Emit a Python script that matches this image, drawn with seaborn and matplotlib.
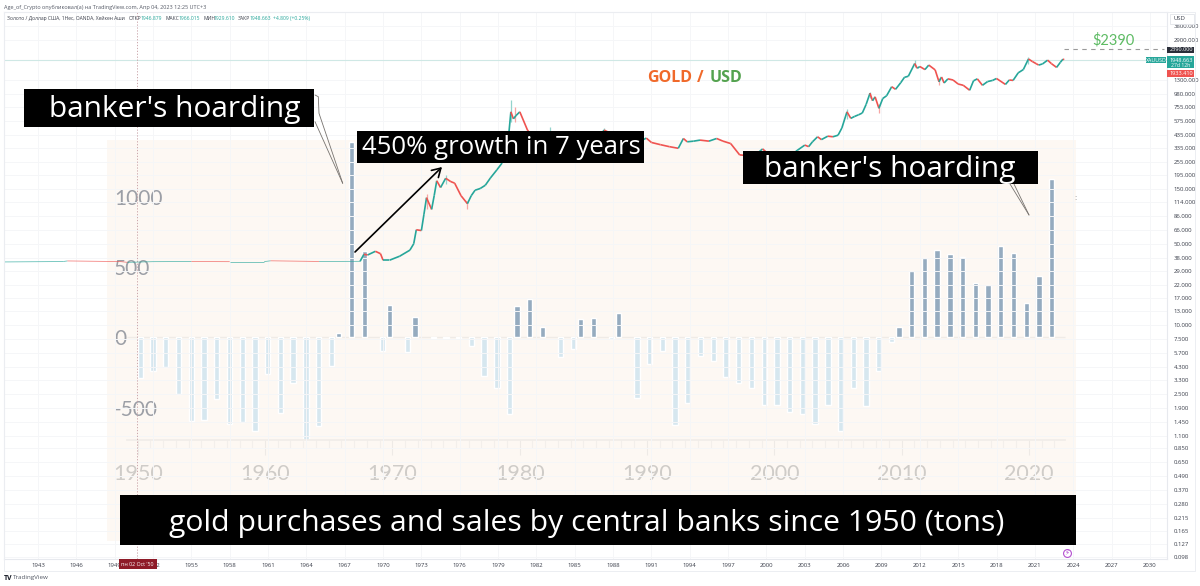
import pandas as pd
import numpy as np
import matplotlib
matplotlib.use('Agg')
import matplotlib.pyplot as plt
import seaborn as sns

## bar panel data (tons)
years = list(range(1950, 2023))
tons = [-292, -239, -209, -403, -595, -588, -439, -614, -600, -666,
        -263, -541, -327, -730, -628, -204, 33, 1389, 614, -95,
        230, -102, 142, -3, -7, -3, -59, -273, -363, -548,
        223, 270, 76, -142, -85, 128, 138, -14, 175, -434,
        -192, -100, -624, -469, -133, -166, -280, -327, -363, -481,
        -481, -529, -548, -619, -481, -664, -363, -486, -237, -31,
        73, 474, 564, 623, 593, 571, 384, 370, 647, 597,
        247, 439, 1126]
panel_xlabels = [1950, 1960, 1970, 1980, 1990, 2000, 2010, 2020]
panel_yticks = [1000, 500, 0, -500]

## gold price path (year, usd)
gold_year = [1940.4, 1945.0, 1945.3, 1949.5, 1950.0, 1952.0, 1955.0, 1958.0, 1960.7, 1961.2, 1965.0, 1968.2,
             1968.5, 1968.8, 1969.4, 1969.8, 1970.0, 1970.5, 1971.3, 1972.1, 1972.4, 1972.6, 1973.0, 1973.2, 1973.4,
             1973.8, 1974.0, 1974.2, 1974.5, 1974.9, 1975.3, 1975.6, 1976.1, 1976.6, 1976.9, 1977.2, 1977.6, 1978.0,
             1978.4, 1978.9, 1979.3, 1979.8, 1980.0, 1980.2, 1980.4, 1980.7, 1981.3, 1982.4, 1983.1, 1984.0, 1985.1,
             1986.2, 1987.3, 1988.0, 1989.4, 1990.3, 1990.6, 1991.0, 1991.7, 1992.4, 1993.1, 1993.5, 1993.8, 1994.3,
             1994.8, 1995.5, 1996.1, 1996.6, 1997.2, 1997.9, 1999.0, 1999.7, 2000.5, 2001.5, 2002.4, 2003.0, 2003.3,
             2003.6, 2004.0, 2004.3, 2004.8, 2005.2, 2005.6, 2005.9, 2006.3, 2006.6, 2006.9, 2007.2, 2007.5, 2007.8,
             2008.1, 2008.3, 2008.5, 2008.8, 2009.1, 2009.4, 2009.8, 2010.1, 2010.5, 2010.8, 2011.1, 2011.6, 2011.8,
             2012.0, 2012.4, 2012.7, 2013.2, 2013.5, 2013.7, 2013.9, 2014.2, 2014.6, 2015.0, 2015.4, 2015.9, 2016.2,
             2016.5, 2016.9, 2017.3, 2017.7, 2018.0, 2018.7, 2019.0, 2019.3, 2019.7, 2020.1, 2020.5, 2020.8, 2021.1,
             2021.3, 2021.6, 2022.0, 2022.3, 2022.7, 2023.0, 2023.2, 2023.3]
gold_usd = [34.8, 35.1, 35.5, 35.0, 34.5, 35.0, 35.1, 35.0, 35.0, 35.6, 35.1, 35.2,
            40.5, 40, 43, 41, 36, 36, 39, 44, 50, 66, 65, 90, 125,
            99, 130, 175, 153, 184, 172, 167, 130, 111, 130, 145, 150, 160,
            185, 217, 248, 400, 690, 600, 640, 690, 480, 330, 450, 370, 300,
            340, 480, 440, 370, 394, 409, 375, 359, 345, 334, 406, 380, 385,
            393, 385, 406, 385, 367, 293, 285, 330, 275, 265, 320, 356, 345,
            380, 420, 397, 425, 420, 433, 500, 690, 606, 630, 650, 674, 800,
            1000, 860, 930, 740, 900, 950, 1137, 1080, 1230, 1372, 1400, 1805, 1640,
            1700, 1600, 1750, 1590, 1255, 1380, 1225, 1330, 1300, 1200, 1170, 1060, 1280,
            1330, 1170, 1260, 1290, 1340, 1190, 1300, 1290, 1500, 1600, 1975, 1880, 1800,
            1750, 1790, 1930, 1800, 1670, 1850, 1970, 1948.663]
wick_year = [1973.4, 1974.9, 1976.6, 1980.0, 1980.3, 1983.1, 1987.3, 2006.3, 2008.1, 2008.8, 2011.6, 2013.5, 2020.5]
wick_low = [100, 165, 100, 560, 560, 420, 440, 600, 900, 680, 1700, 1180, 1800]
wick_high = [135, 195, 118, 873, 760, 510, 500, 730, 1030, 800, 1920, 1350, 2075]
wick_color = ['#F7A6A4', '#93D3CD', '#F7A6A4', '#93D3CD', '#F7A6A4', '#93D3CD', '#93D3CD', '#93D3CD',
              '#93D3CD', '#F7A6A4', '#93D3CD', '#F7A6A4', '#93D3CD']

## tradingview axis labels
price_ticks = [3800, 2900, 1300, 980, 755, 575, 435, 335, 255, 195, 150, 114, 86, 66, 50, 38, 29, 22, 17, 13, 10,
               7.5, 5.7, 4.3, 3.3, 2.5, 1.9, 1.45, 1.1, 0.85, 0.65, 0.49, 0.37, 0.28, 0.215, 0.165, 0.127, 0.098]
year_ticks = list(range(1943, 2031, 3))
last_price = 1948.663
target_price = 2390

sns.set_theme(style='white')
plt.rcParams['font.family'] = ['Open Sans', 'DejaVu Sans']

W, H = 1200, 586
fig = plt.figure(figsize=(12, 5.86), dpi=100, facecolor='white')


def box(l, t, r, b):
    return [l / W, 1 - b / H, (r - l) / W, (b - t) / H]


## beige panel with the bars, sits under the tradingview chart
panel = fig.add_axes(box(107, 140, 1076, 541), zorder=1)
panel.set_facecolor('#FDF8F3')
df = pd.DataFrame({'year': years, 'tons': tons})
df['side'] = np.where(df['tons'] > 0, 'buy', 'sell')
sns.barplot(data=df, x='year', y='tons', hue='side', hue_order=['buy', 'sell'], order=years, dodge=True,
            width=0.84, palette={'buy': '#95ABBF', 'sell': '#D6E7EF'}, saturation=1, errorbar=None,
            legend=False, ax=panel)
panel.set_xlim(-2.41, 73.7)
panel.set_ylim(-1449, 1403)
panel.set(xlabel='', ylabel='')
panel.hlines(0, -0.8, 72.8, color='#EFEBE7', lw=1, zorder=0)
for s in ['top', 'left', 'right']:
    panel.spines[s].set_visible(False)
panel.spines['bottom'].set_position(('data', -730))
panel.spines['bottom'].set_bounds(-0.8, 72.8)
panel.spines['bottom'].set_color('#F1EDE9')
panel.set_xticks([y - 1950 for y in panel_xlabels], [str(y) for y in panel_xlabels])
panel.set_xticks(range(len(years)), minor=True)
panel.tick_params(axis='x', which='major', length=11, width=0.8, color='#EEEAE6', pad=6,
                  labelsize=15.5, labelcolor='#CFCCC8', bottom=True)
panel.tick_params(axis='x', which='minor', length=6, width=0.8, color='#F3EFEB', bottom=True)
panel.set_yticks(panel_yticks, [str(v) for v in panel_yticks])
panel.tick_params(axis='y', length=0, pad=-5, labelsize=15, labelcolor='#9C9FA6', left=False)
for t in panel.get_yticklabels():
    t.set_horizontalalignment('left')
for t in panel.get_xticklabels() + panel.get_yticklabels():
    t.set_family(['Lato', 'DejaVu Sans'])

## tradingview chart on top, transparent so the panel shows through
tv = fig.add_axes(box(4, 12, 1167, 559), zorder=2)
tv.patch.set_alpha(0)
tv.set_yscale('log')
tv.set_xlim(1943 + (4 - 38) / 12.78, 1943 + (1167 - 38) / 12.78)
tv.set_ylim(1300 * np.exp((80 - 559) / 50.25), 1300 * np.exp((80 - 12) / 50.25))
tv.set_yticks(price_ticks, [f'{p:.3f}' for p in price_ticks])
tv.minorticks_off()
tv.yaxis.tick_right()
tv.set_xticks(year_ticks, [str(y) for y in year_ticks])
tv.grid(True, color='#F5F6F8', lw=0.7)
tv.set_axisbelow(True)
tv.tick_params(axis='both', length=0, labelsize=4.3, labelcolor='#3A3E4A', pad=3)
tv.tick_params(axis='y', pad=5)
for s in tv.spines.values():
    s.set_color('#E7E9EE')
    s.set_linewidth(0.8)

tv.axhline(last_price, color='#CFE8E5', lw=0.8)
tv.axvline(1950.75, color='#C49AA0', lw=0.6, ls=(0, (1.5, 2)))
tv.plot([2023.3, 2031.1], [target_price, target_price], color='#9A9A9A', lw=0.8, ls=(0, (4, 4)))

tv.vlines(wick_year, wick_low, wick_high, colors=wick_color, lw=0.9, zorder=3)
for i in range(len(gold_year) - 1):
    up = gold_usd[i + 1] >= gold_usd[i]
    lw = 0.6 if gold_year[i] < 1968 else 1.2
    tv.plot(gold_year[i:i + 2], gold_usd[i:i + 2], color='#26A69A' if up else '#EF5350',
            lw=lw, alpha=0.7 if gold_year[i] < 1968 else 1, solid_capstyle='butt', zorder=4)

## overlay in pixels for the pasted boxes and labels
top = fig.add_axes([0, 0, 1, 1], zorder=3)
top.set_xlim(0, W)
top.set_ylim(H, 0)
top.axis('off')


def black_box(l, t, r, b, label, size, tx, ty):
    top.fill([l, r, r, l], [t, t, b, b], color='black', zorder=5, lw=0)
    top.text(tx, ty, label, color='white', fontsize=size, ha='center', va='center', zorder=6)


black_box(24, 89, 314, 127, "banker's hoarding", 21.5, 175, 110)
black_box(357, 131, 644, 163, '450% growth in 7 years', 18.5, 501.5, 147)
black_box(743, 151, 1038, 184, "banker's hoarding", 21.5, 890, 169)
black_box(120, 495, 1076, 545, 'gold purchases and sales by central banks since 1950 (tons)', 21.7, 586.5, 524)

for xs, ys in [([315, 318.3, 319, 342.7], [95, 96.7, 113.3, 183.3]), ([315, 342.7], [121.7, 183.3]),
               ([1010, 1029], [184, 215]), ([1014, 1029], [184, 215])]:
    top.plot(xs, ys, color='#77736F', lw=0.6, zorder=4)
top.annotate('', xy=(442, 167), xytext=(355, 252),
             arrowprops=dict(arrowstyle='->,head_length=0.5,head_width=0.3', color='black', lw=1.2,
                             shrinkA=0, shrinkB=0), zorder=4)

top.text(647, 77.5, 'GOLD', color='#F0692A', fontsize=11.5, fontweight='bold', va='center')
top.text(700, 77.5, '/', color='#F0692A', fontsize=11.5, fontweight='bold', va='center', ha='center')
top.text(710, 77.5, 'USD', color='#54A24F', fontsize=11.5, fontweight='bold', va='center')
top.text(1113, 40, '$2390', color='#5DBB63', fontsize=10.5, va='center', ha='center', family=['Lato'])

## outer frame of the screenshot
top.plot([4, 1195, 1195, 4, 4], [12, 12, 570.7, 570.7, 12], color='#ECEEF2', lw=0.7, zorder=1)

## price tags on the right axis
for t0, b0, c, label, ty in [(46.7, 52.7, '#2A2E39', '2390.000', 49.7),
                             (56, 68.3, '#26A69A', '1948.663', 60),
                             (70, 76.7, '#EF5350', '1933.410', 73.3)]:
    top.fill([1167, 1194, 1194, 1167], [t0, t0, b0, b0], color=c, lw=0, zorder=5)
    top.text(1170, ty, label, color='white', fontsize=4, va='center', zorder=6)
top.text(1171, 65.5, '27d 12h', color='white', fontsize=3.7, va='center', zorder=6)
top.fill([1146, 1166, 1166, 1146], [56.7, 56.7, 63.3, 63.3], color='#26A69A', lw=0, zorder=5)
top.text(1156, 60, 'XAUUSD', color='white', fontsize=3.8, va='center', ha='center', zorder=6)
top.fill([1170, 1194, 1194, 1170], [14, 14, 24, 24], facecolor='white', edgecolor='#E3E5EA', lw=0.6, zorder=5)
top.text(1173, 19, 'USD', color='#3A3E4A', fontsize=4.3, va='center', zorder=6)

## header, footer and small bits
top.text(4, 7, 'Age_of_Crypto опубликовал(а) на TradingView.com, Апр 04, 2023 12:25 UTC+3',
         color='#555A66', fontsize=4, va='center_baseline')
top.text(7, 18, 'Золото / Доллар США, 1Нес, OANDA, Хейкен Аши', color='#3A3E4A', fontsize=3.6, va='center_baseline')
for x0, x1, name, val in zip([129, 166, 203, 238], [141, 179, 214, 250],
                             ['ОТКР', 'МАКС', 'МИН', 'ЗАКР'],
                             ['1946.879', '1966.015', '1929.610', '1948.663']):
    top.text(x0, 18, name, color='#3A3E4A', fontsize=3.6, va='center_baseline')
    top.text(x1, 18, val, color='#26A69A', fontsize=3.6, va='center_baseline')
top.text(273, 18, '+4.809 (+0.25%)', color='#26A69A', fontsize=3.6, va='center_baseline')

top.fill([118.7, 156.7, 156.7, 118.7], [559, 559, 569.3, 569.3], color='#8E1B28', lw=0, zorder=5)
top.text(137.7, 564, "пн 02 Oct '50", color='white', fontsize=3.8, va='center', ha='center', zorder=6)
top.text(4, 578, 'TV', color='#131722', fontsize=5, fontweight='bold', va='center')
top.text(13, 578, 'TradingView', color='#555A66', fontsize=4.5, va='center')
top.scatter([1067], [553], s=32, facecolor='white', edgecolor='#B44FD0', lw=0.8, zorder=5)
top.text(1067, 553, '⚡', color='#B44FD0', fontsize=5, va='center', ha='center', family='DejaVu Sans', zorder=6)
top.text(1075.5, 199, ':', color='#8A8A8A', fontsize=6, va='center', ha='center')

fig.savefig('out.png', dpi=100, facecolor='white')
